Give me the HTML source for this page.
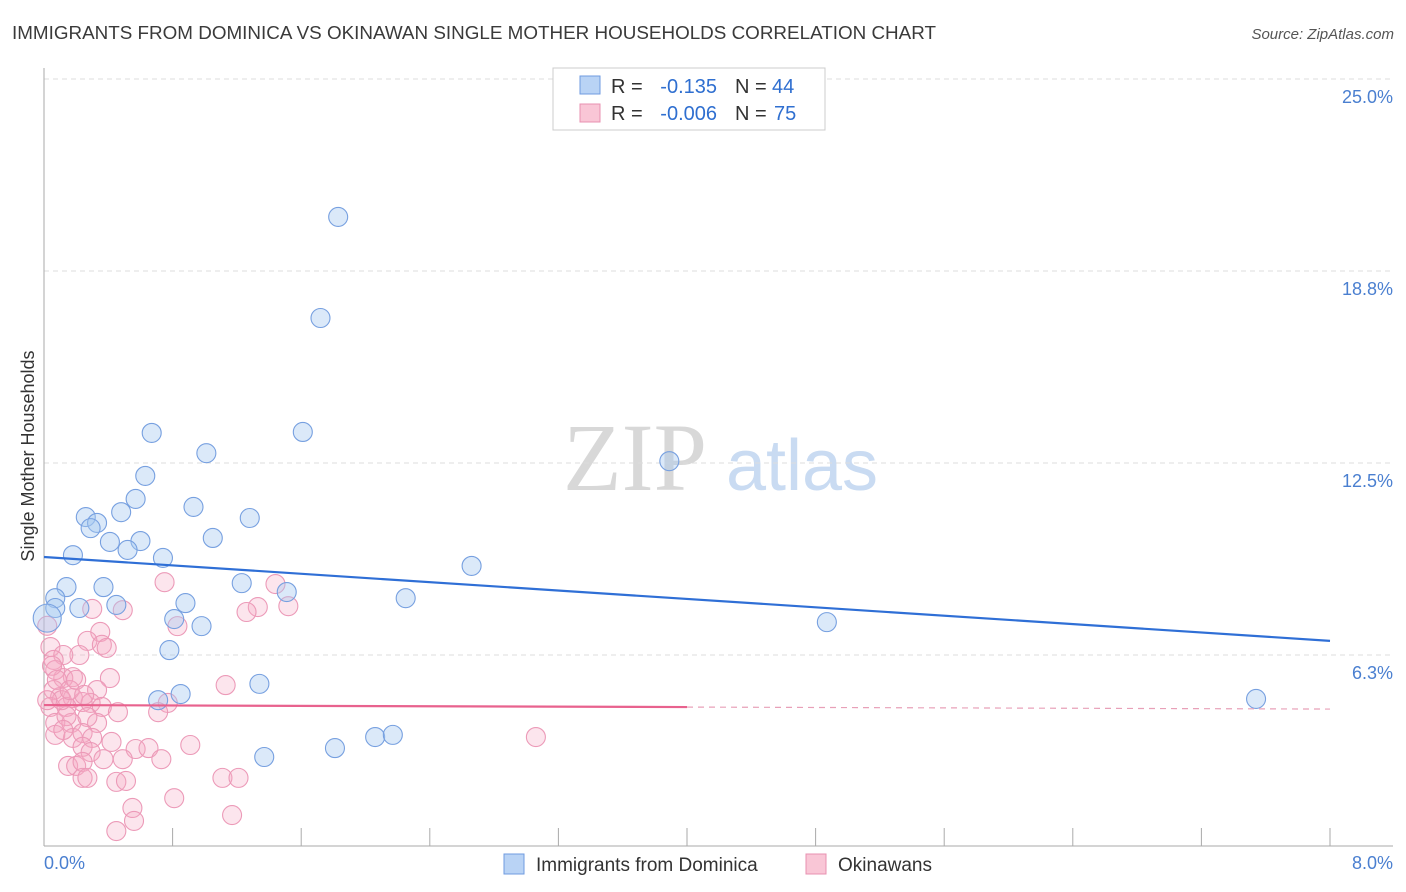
<!DOCTYPE html>
<html><head><meta charset="utf-8"><style>
body{margin:0;background:#fff;font-family:"Liberation Sans",sans-serif;}
svg{display:block}
</style></head><body>
<svg id="chart" width="1406" height="892" xmlns="http://www.w3.org/2000/svg">
<text x="12" y="39" font-size="18" fill="#3a3a3a" textLength="924" lengthAdjust="spacingAndGlyphs">IMMIGRANTS FROM DOMINICA VS OKINAWAN SINGLE MOTHER HOUSEHOLDS CORRELATION CHART</text>
<text x="1394" y="39" font-size="15" fill="#555" font-style="italic" text-anchor="end">Source: ZipAtlas.com</text>
<g>
<text x="635" y="490" font-size="96" font-family="Liberation Serif,serif" fill="#d8d8d8" text-anchor="middle">ZIP</text>
<text x="802" y="490" font-size="72" fill="#c9dbf2" text-anchor="middle">atlas</text>
</g>
<g id="grid"></g>
<g id="axes"></g>
<g id="pts"></g>
<g id="lines"></g>
<text transform="translate(34,456) rotate(-90)" font-size="18" fill="#333" text-anchor="middle">Single Mother Households</text>
<text x="44" y="869" font-size="18" fill="#4a7fd0">0.0%</text>
<text x="1393" y="869" font-size="18" fill="#4a7fd0" text-anchor="end">8.0%</text>
<g>
<rect x="553" y="68" width="272" height="62" fill="#fff" stroke="#ccc"/>
<rect x="580" y="76" width="20" height="18" fill="#b9d3f5" stroke="#6f9be0"/>
<rect x="580" y="104" width="20" height="18" fill="#f9c6d6" stroke="#e890b0"/>
<text x="611" y="93" font-size="20" fill="#333">R =</text>
<text x="717" y="93" font-size="20" fill="#2f6fd0" text-anchor="end">-0.135</text>
<text x="735" y="93" font-size="20" fill="#333">N =</text>
<text x="772" y="93" font-size="20" fill="#2f6fd0">44</text>
<text x="611" y="120" font-size="20" fill="#333">R =</text>
<text x="717" y="120" font-size="20" fill="#2f6fd0" text-anchor="end">-0.006</text>
<text x="735" y="120" font-size="20" fill="#333">N =</text>
<text x="774" y="120" font-size="20" fill="#2f6fd0">75</text>
</g>
<g>
<rect x="504" y="854" width="20" height="20" fill="#b9d3f5" stroke="#6f9be0"/>
<text x="536" y="871" font-size="19" fill="#333">Immigrants from Dominica</text>
<rect x="806" y="854" width="20" height="20" fill="#f9c6d6" stroke="#e890b0"/>
<text x="838" y="871" font-size="19" fill="#333">Okinawans</text>
</g>
</svg>
<script>
const yTicks=[6.3,12.5,18.8,25.0];
const yTickVals=[6.25,12.5,18.75,25];
const blueX=[1.83,1.72,0.67,1.61,1.01,3.89,0.63,0.57,0.93,0.26,0.33,0.29,0.48,1.28,0.41,0.60,1.05,0.52,0.18,0.74,2.66,0.14,0.37,1.23,1.51,2.25,0.07,0.22,0.45,0.88,0.07,0.81,0.98,4.87,0.78,0.71,0.85,1.34,7.54,1.37,1.81,2.06,2.17,0.02];
const blueY=[20.51,17.22,13.48,13.51,12.82,12.56,12.08,11.33,11.07,10.74,10.55,10.38,10.90,10.71,9.93,9.96,10.06,9.67,9.50,9.41,9.15,8.46,8.46,8.59,8.30,8.10,8.10,7.78,7.88,7.94,7.78,7.42,7.19,7.32,6.41,4.78,4.98,5.31,4.82,2.93,3.22,3.58,3.65,7.45];
const pinkX=[0.75,1.44,0.30,0.49,1.33,1.26,1.52,0.83,0.35,0.27,0.36,0.39,0.04,0.22,0.12,0.06,0.41,0.18,0.12,1.13,0.33,0.06,0.10,0.18,0.24,0.29,0.36,0.04,0.14,0.77,0.71,0.46,0.07,0.17,0.33,0.27,0.18,0.24,0.30,0.42,0.24,0.29,0.91,0.57,0.65,0.37,0.49,0.73,0.15,0.20,0.24,0.24,0.27,0.45,0.51,1.11,1.21,0.81,0.55,0.56,0.45,1.17,3.06,0.02,0.07,0.05,0.14,0.08,0.11,0.16,0.07,0.02,0.20,0.12,0.25];
const pinkY=[8.62,8.56,7.75,7.71,7.81,7.65,7.84,7.19,7.00,6.71,6.58,6.48,6.51,6.25,6.25,6.09,5.50,5.53,5.50,5.27,5.11,5.11,4.88,4.85,4.72,4.69,4.56,4.56,4.56,4.69,4.39,4.39,4.04,4.04,4.04,4.23,3.55,3.71,3.55,3.42,3.26,3.09,3.32,3.19,3.22,2.86,2.86,2.86,2.64,2.64,2.77,2.25,2.25,2.12,2.15,2.25,2.25,1.59,1.27,0.85,0.52,1.04,3.58,7.20,5.76,5.90,4.26,5.44,4.78,5.11,3.65,4.78,5.44,3.81,4.95];
const blueTrend=[9.44,6.71];
const pinkTrend=[4.62,4.49];
const X0=44,X1=1330,Y0=847,PXY=192/6.25;
const xs=v=>X0+(v/8)*(X1-X0);
const ys=v=>Y0-v*PXY;
const NS="http://www.w3.org/2000/svg";
function mk(tag,attrs,parent){const e=document.createElementNS(NS,tag);for(const k in attrs)e.setAttribute(k,attrs[k]);parent.appendChild(e);return e;}
const grid=document.getElementById('grid');
yTickVals.forEach((v,i)=>{
 const l=mk('line',{x1:44,x2:1393,y1:ys(v),y2:ys(v),stroke:'#ddd','stroke-dasharray':'5,4'},grid);
 
 
 const t=mk('text',{x:1393,y:ys(v)+24,'font-size':18,fill:'#4a7fd0','text-anchor':'end'},grid);
 t.textContent=yTicks[i].toFixed(1)+'%';
 
 
});
const axes=document.getElementById('axes');
const ya=mk('line',{x1:44,x2:44,y1:68,y2:846,stroke:'#aaa'},axes);


const xa=mk('line',{x1:44,x2:1393,y1:846,y2:846,stroke:'#aaa'},axes);


for(let i=1;i<=10;i++){
 const t=mk('line',{x1:xs(i*0.8),x2:xs(i*0.8),y1:828,y2:846,stroke:'#aaa'},axes);
 
 
}
const pts=document.getElementById('pts');
pinkX.forEach((v,i)=>{
 const c=mk('circle',{cx:xs(v),cy:ys(pinkY[i]),r:9.5,fill:'rgba(245,170,196,0.3)',stroke:'#ec9ab8','stroke-width':1.1},pts);
 
 
});
blueX.forEach((v,i)=>{
 const c=mk('circle',{cx:xs(v),cy:ys(blueY[i]),r:(i>=43?14:9.5),fill:'rgba(165,199,240,0.4)',stroke:'#77a0e0','stroke-width':1.1},pts);
 
 
});
const lines=document.getElementById('lines');
const bl=mk('line',{x1:xs(0),y1:ys(blueTrend[0]),x2:xs(8),y2:ys(blueTrend[1]),stroke:'#2f6fd6','stroke-width':2.2},lines);


const pm=pinkTrend[0]+(pinkTrend[1]-pinkTrend[0])*0.5;
const pl=mk('line',{x1:xs(0),y1:ys(pinkTrend[0]),x2:xs(4),y2:ys(pm),stroke:'#e8628e','stroke-width':2.2},lines);


const pd=mk('line',{x1:xs(4),y1:ys(pm),x2:xs(8),y2:ys(pinkTrend[1]),stroke:'#e8a0b8','stroke-width':1.2,'stroke-dasharray':'6,5'},lines);


</script>
</body></html>
